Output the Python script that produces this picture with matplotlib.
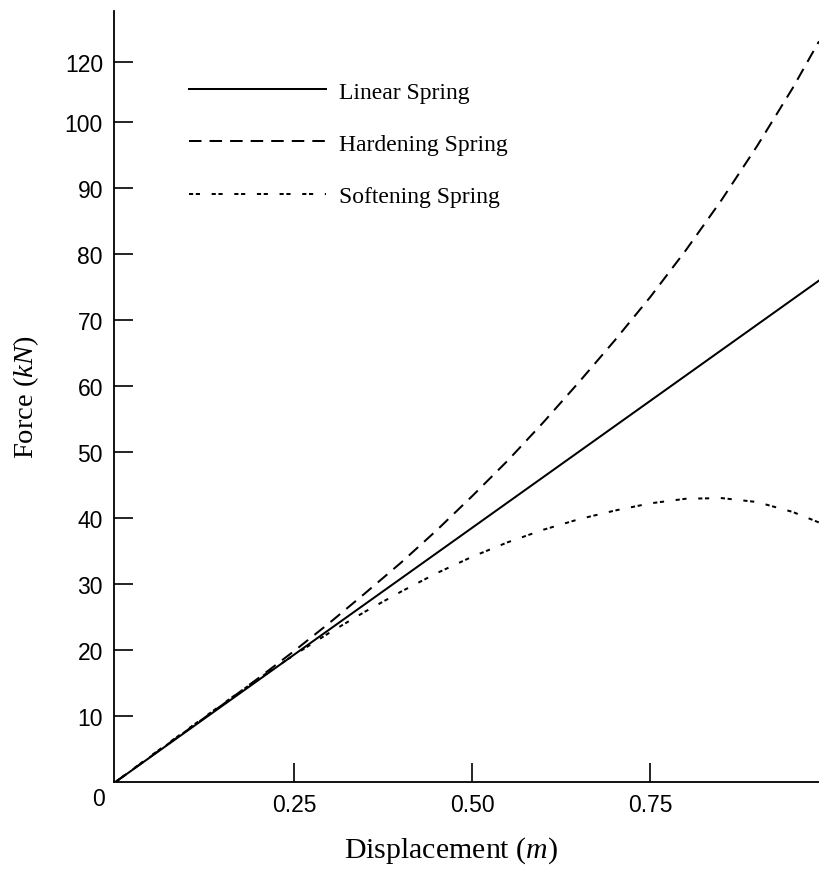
import matplotlib
matplotlib.use("Agg")
import matplotlib.pyplot as plt

# Force-displacement data for three spring models
displacement = [0.0, 0.05, 0.10, 0.15, 0.20, 0.25, 0.30, 0.35, 0.40, 0.45, 0.50,
                0.55, 0.60, 0.65, 0.70, 0.75, 0.80, 0.85, 0.90, 0.95, 0.987]
linear_force = [0.0, 3.85, 7.7, 11.55, 15.4, 19.25, 23.1, 26.95, 30.8, 34.65, 38.5,
                42.35, 46.2, 50.05, 53.9, 57.75, 61.6, 65.45, 69.3, 73.15, 76.0]
hardening_force = [0.0, 3.9, 7.8, 11.7, 15.7, 19.8, 24.1, 28.6, 33.2, 38.1, 43.3,
                   48.7, 54.5, 60.6, 66.9, 73.5, 80.6, 88.2, 96.4, 105.2, 112.3]
softening_force = [0.0, 4.0, 7.9, 11.8, 15.6, 19.2, 22.6, 25.8, 28.8, 31.6, 34.1,
                   36.3, 38.2, 39.8, 41.1, 42.2, 42.9, 43.0, 42.4, 40.9, 39.3]

series_labels = ["Linear Spring", "Hardening Spring", "Softening Spring"]

x_tick_values = [0.25, 0.50, 0.75]
x_tick_labels = ["0.25", "0.50", "0.75"]
y_tick_values = [10, 20, 30, 40, 50, 60, 70, 80, 90, 100, 109.2]
y_tick_labels = ["10", "20", "30", "40", "50", "60", "70", "80", "90", "100", "120"]

plt.rcParams["mathtext.fontset"] = "custom"
plt.rcParams["mathtext.rm"] = "Liberation Serif"
plt.rcParams["mathtext.it"] = "Liberation Serif:italic"
plt.rcParams["lines.scale_dashes"] = False

W, H = 819, 870
fig = plt.figure(figsize=(W / 100, H / 100), dpi=100)
ax = fig.add_axes([114 / W, 87.5 / H, (W - 114) / W, 770.5 / H])

lw = 1.45
ax.plot(displacement, linear_force, color="black", lw=lw, label=series_labels[0])
ax.plot(displacement, hardening_force, color="black", lw=lw,
        dashes=(9.0, 5.8), label=series_labels[1])
ax.plot(displacement, softening_force, color="black", lw=lw,
        dashes=(3.0, 1.9, 3.0, 8.4), label=series_labels[2])

ax.set_xlim(-0.003, 0.987)
ax.set_ylim(0, 116.9)

for side in ("top", "right"):
    ax.spines[side].set_visible(False)
for side in ("left", "bottom"):
    ax.spines[side].set_linewidth(1.3)

ax.set_xticks(x_tick_values)
ax.set_xticklabels(x_tick_labels)
ax.set_yticks(y_tick_values)
ax.set_yticklabels(y_tick_labels)
ax.tick_params(direction="in", length=13.5, width=1.2, pad=8,
               labelsize=16.5, color="black")
for lab in ax.get_xticklabels() + ax.get_yticklabels():
    lab.set_fontfamily("Liberation Sans")

# origin label shared by both axes
ax.annotate("0", xy=(0, 0), xytext=(-12.6, -12.2), textcoords="offset points",
            ha="center", va="center", fontsize=16.5, family="Liberation Sans")

fig.text(451 / W, 1 - 858 / H, r"Displacement $\mathit{(m)}$",
         ha="center", va="baseline", fontsize=21.5, family="Liberation Serif")
fig.text(26 / W, 1 - 397.5 / H, r"Force $\mathit{(kN)}$", rotation=90,
         ha="center", va="center", fontsize=20.5, family="Liberation Serif")

leg = ax.legend(loc="upper left", bbox_to_anchor=(189 / W, 1 - 82 / H),
                bbox_transform=fig.transFigure, frameon=False,
                handlelength=5.8, handletextpad=0.55, labelspacing=1.3,
                borderpad=0, borderaxespad=0,
                prop={"family": "Liberation Serif", "size": 17})

fig.savefig("out.png", dpi=100)
